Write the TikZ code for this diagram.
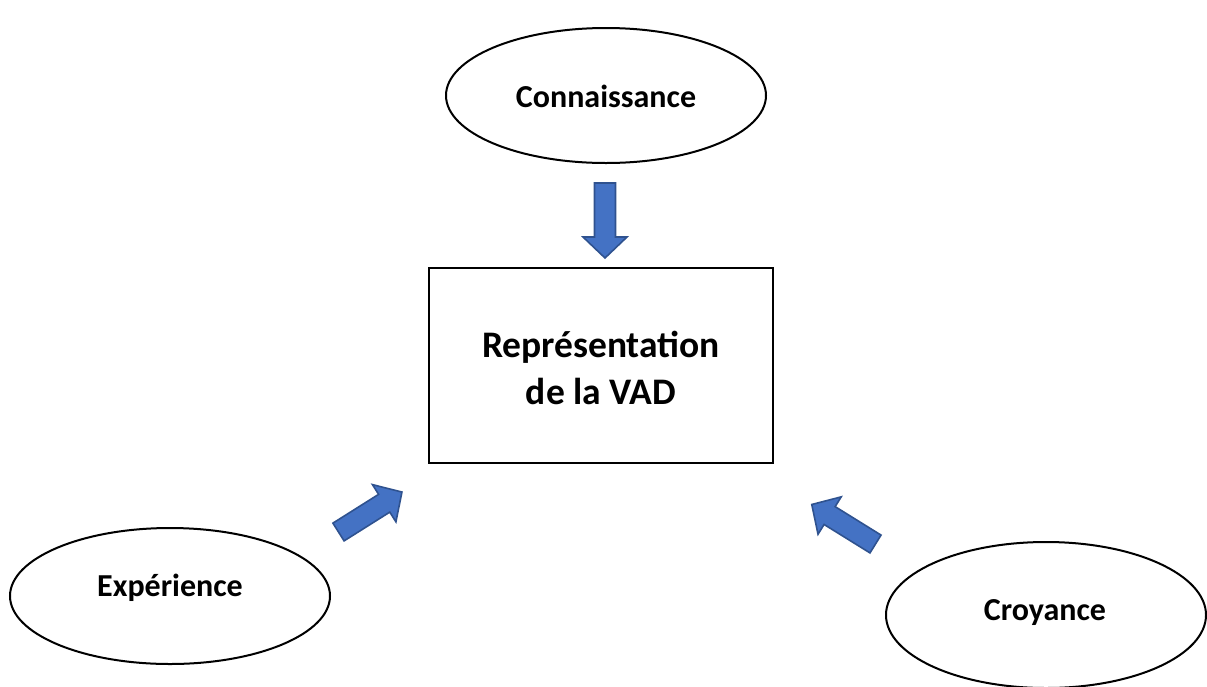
\documentclass[tikz,border=0pt]{standalone}
\usepackage{fontspec}
\setmainfont{Carlito}
\definecolor{arrowfill}{HTML}{4472C4}
\definecolor{arrowline}{HTML}{2F528F}
\tikzset{
  blockarrow/.pic={
    \draw[fill=arrowfill, draw=arrowline, line width=1.6pt, line join=miter]
      (0,-10.5) -- (54,-10.5) -- (54,-22) -- (75,0) -- (54,22) -- (54,10.5) -- (0,10.5) -- cycle;
  },
  smalltext/.style={font=\fontsize{32}{38}\selectfont\bfseries},
  bigtext/.style={font=\fontsize{37.5}{47}\selectfont\bfseries, align=center},
}
\begin{document}
\begin{tikzpicture}[x=1pt, y=-1pt]
\useasboundingbox (0,0) rectangle (1207,686);
% ellipses
\draw[line width=2pt] (606,95.5) ellipse [x radius=160, y radius=67.5];
\node[smalltext] (conn) at (606,96) {Connaissance};
\draw[line width=2pt] (170,596) ellipse [x radius=160, y radius=68];
\node[smalltext] (exp) at (170,588) {Expérience};
\draw[line width=2pt] (1046,615) ellipse [x radius=160, y radius=73];
\node[smalltext] (croy) at (1045,613) {Croyance};
% rectangle
\draw[line width=2pt] (429,268) rectangle (773,463);
\node[bigtext] (rep) at (601,368) {Représentation\\de la VAD};
% arrows
\pic[shift={(605,183)}, rotate=-90] {blockarrow};
\pic[shift={(338.5,532)}, rotate=32.2] {blockarrow};
\pic[shift={(875.5,544)}, rotate=148.2] {blockarrow};
\end{tikzpicture}
\end{document}
